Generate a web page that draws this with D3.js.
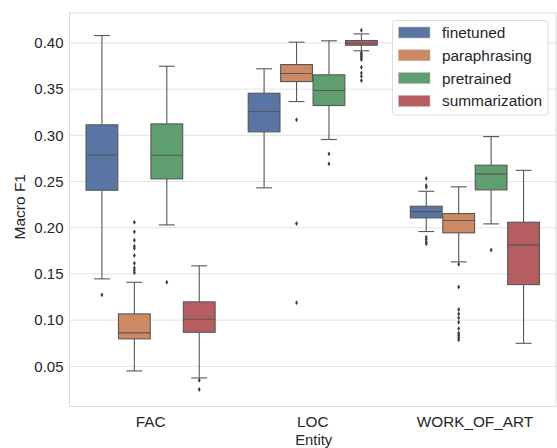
<!DOCTYPE html>
<html><head><meta charset="utf-8">
<script src="https://cdn.jsdelivr.net/npm/d3@7"></script>
<style>body{margin:0;background:#fff}svg{display:block}text{font-family:"Liberation Sans",Arial,sans-serif;fill:#262626}</style>
</head><body><svg id="c" width="557" height="448"></svg>
<script>
const categories = ["FAC", "LOC", "WORK_OF_ART"];
const seriesNames = ["finetuned", "paraphrasing", "pretrained", "summarization"];
const seriesColors = ["#5875a4", "#cc8963", "#5f9e6e", "#b55d60"];
const yTicks = [0.05, 0.10, 0.15, 0.20, 0.25, 0.30, 0.35, 0.40];
// [whiskerLow, q1, median, q3, whiskerHigh] per category
const finetunedStats = [[0.1447, 0.2406, 0.2789, 0.3114, 0.408], [0.2432, 0.3038, 0.3258, 0.3456, 0.372], [0.1959, 0.2107, 0.2175, 0.2233, 0.2395]];
const paraphrasingStats = [[0.0451, 0.0798, 0.0863, 0.1068, 0.141], [0.3366, 0.3582, 0.3669, 0.3766, 0.4008], [0.1631, 0.1945, 0.2078, 0.2154, 0.2443]];
const pretrainedStats = [[0.2031, 0.2529, 0.2785, 0.3124, 0.3748], [0.2955, 0.3323, 0.3485, 0.3655, 0.4023], [0.2042, 0.241, 0.2583, 0.2677, 0.2987]];
const summarizationStats = [[0.0375, 0.0869, 0.101, 0.1198, 0.1588], [0.3915, 0.3975, 0.3997, 0.4026, 0.4098], [0.075, 0.1385, 0.1815, 0.206, 0.2622]];
const finetunedOutliers = [[0.1274], [], [0.2533, 0.2457, 0.2438, 0.1897, 0.1872, 0.1847, 0.1826]];
const paraphrasingOutliers = [[0.206, 0.1956, 0.1865, 0.18, 0.1778, 0.170, 0.1616, 0.1566, 0.154, 0.1512], [0.3168, 0.2046, 0.119], [0.1605, 0.136, 0.1115, 0.1068, 0.1025, 0.0977, 0.0909, 0.0862, 0.0837, 0.0812, 0.0787]];
const pretrainedOutliers = [[0.141], [0.280, 0.2692], [0.176]];
const summarizationOutliers = [[0.035, 0.025], [0.4137, 0.3893, 0.3874, 0.3856, 0.3839, 0.382, 0.3737, 0.3676, 0.364, 0.3593], []];

const allStats = [finetunedStats, paraphrasingStats, pretrainedStats, summarizationStats];
const allOutliers = [finetunedOutliers, paraphrasingOutliers, pretrainedOutliers, summarizationOutliers];

const svg = d3.select("#c");
const M = {l: 69.5, r: 556, t: 13, b: 406.5};
const x = d3.scaleBand().domain(categories).range([M.l, M.r]);
const hue = d3.scaleBand().domain(seriesNames).range([0, x.bandwidth() * 0.8]);
const y = d3.scaleLinear().domain([0.0066, 0.4324]).range([M.b, M.t]);
const lineCol = "#575757";

// grid
svg.append("g").selectAll("line").data(yTicks).join("line")
  .attr("x1", M.l).attr("x2", M.r).attr("y1", d => y(d)).attr("y2", d => y(d))
  .attr("stroke", "#e3e3e3").attr("stroke-width", 1);
// frame
svg.append("rect").attr("x", M.l).attr("y", M.t).attr("width", M.r - M.l).attr("height", M.b - M.t)
  .attr("fill", "none").attr("stroke", "#dcdcdc").attr("stroke-width", 1);

// axes
const yAxis = d3.axisLeft(y).tickValues(yTicks).tickFormat(d3.format(".2f")).tickSize(0).tickPadding(6);
const gy = svg.append("g").attr("transform", `translate(${M.l},0)`).call(yAxis);
gy.select(".domain").remove();
gy.selectAll("text").style("font-size", "15px").attr("fill", "#262626");
const xAxis = d3.axisBottom(x).tickSize(0).tickPadding(9.5);
const gx = svg.append("g").attr("transform", `translate(0,${M.b})`).call(xAxis);
gx.select(".domain").remove();
gx.selectAll("text").style("font-size", "15.3px").attr("fill", "#262626");

svg.append("text").attr("x", (M.l + M.r) / 2 + 1).attr("y", 444.5).attr("text-anchor", "middle")
  .style("font-size", "14.8px").text("Entity");
svg.append("text").attr("transform", `translate(24.5,${(M.t + M.b) / 2 - 3}) rotate(-90)`).attr("text-anchor", "middle")
  .style("font-size", "15.5px").text("Macro F1");

// boxes
seriesNames.forEach((s, si) => {
  const g = svg.append("g");
  categories.forEach((c, ci) => {
    const st = allStats[si][ci];
    const x0 = x(c) + x.bandwidth() * 0.1 + hue(s);
    const w = hue.bandwidth() * 0.98;
    const bx = x0 + (hue.bandwidth() - w) / 2;
    const cx = x0 + hue.bandwidth() / 2;
    // whiskers
    g.append("line").attr("x1", cx).attr("x2", cx).attr("y1", y(st[0])).attr("y2", y(st[1])).attr("stroke", lineCol).attr("stroke-width", 1.1);
    g.append("line").attr("x1", cx).attr("x2", cx).attr("y1", y(st[3])).attr("y2", y(st[4])).attr("stroke", lineCol).attr("stroke-width", 1.1);
    [st[0], st[4]].forEach(v => g.append("line").attr("x1", cx - w / 4).attr("x2", cx + w / 4)
      .attr("y1", y(v)).attr("y2", y(v)).attr("stroke", lineCol).attr("stroke-width", 1.1));
    g.append("rect").attr("x", bx).attr("width", w).attr("y", y(st[3])).attr("height", y(st[1]) - y(st[3]))
      .attr("fill", seriesColors[si]).attr("stroke", lineCol).attr("stroke-width", 1.1);
    g.append("line").attr("x1", bx).attr("x2", bx + w).attr("y1", y(st[2])).attr("y2", y(st[2]))
      .attr("stroke", lineCol).attr("stroke-width", 1.1);
    const sym = d3.symbol().type(d3.symbolDiamond).size(7);
    g.selectAll(null).data(allOutliers[si][ci]).join("path").attr("d", sym)
      .attr("transform", d => `translate(${cx},${y(d)})`).attr("fill", "#3d3d3d");
  });
});

// legend
const lg = svg.append("g");
lg.append("rect").attr("x", 392.5).attr("y", 20.5).attr("width", 155.5).attr("height", 94.5).attr("rx", 3)
  .attr("fill", "#fff").attr("fill-opacity", 0.85).attr("stroke", "#dcdcdc");
seriesNames.forEach((s, i) => {
  const yy = 32.5 + i * 22.8;
  lg.append("rect").attr("x", 398.5).attr("y", yy - 5.5).attr("width", 31.5).attr("height", 11)
    .attr("fill", seriesColors[i]).attr("stroke", "#bdbdbd").attr("stroke-width", 0.6);
  lg.append("text").attr("x", 442).attr("y", yy + 5.5).style("font-size", "15.4px").text(s);
});
</script></body></html>
